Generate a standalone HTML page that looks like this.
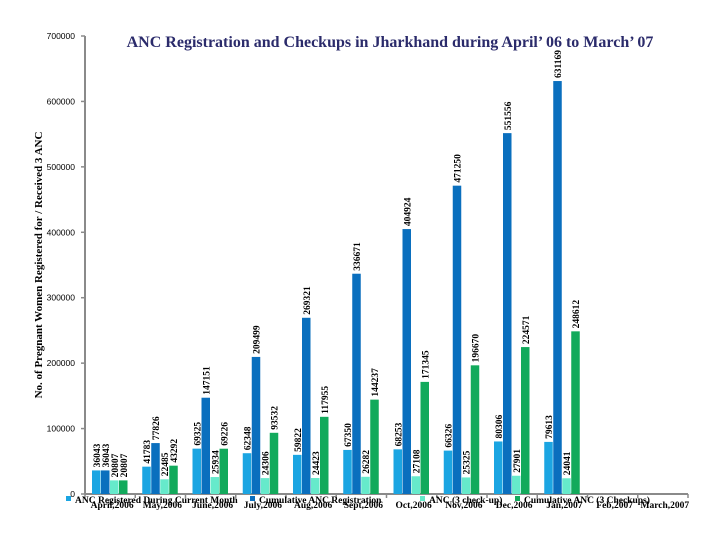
<!DOCTYPE html>
<html><head><meta charset="utf-8"><style>
body{margin:0;background:#fff;}
svg{display:block;font-family:"Liberation Serif",serif;}
</style></head><body>
<svg id="chart" width="720" height="540">
<text x="390" y="47" text-anchor="middle" font-size="16" font-weight="bold" fill="#2b2b6b">ANC Registration and Checkups in Jharkhand during April’ 06 to March’ 07</text>
<text transform="translate(42,265) rotate(-90)" text-anchor="middle" font-size="11" font-weight="bold" fill="#000">No. of Pregnant Women Registered for / Received 3 ANC</text>
<g id="plot"></g>
</svg>
<script>
const months=["April,2006","May,2006","June,2006","July,2006","Aug,2006","Sept,2006","Oct,2006","Nov,2006","Dec,2006","Jan,2007","Feb,2007","March,2007"];
const regMonth=[36043,41783,69325,62348,59822,67350,68253,66326,80306,79613,null,null];
const regCum=[36043,77826,147151,209499,269321,336671,404924,471250,551556,631169,null,null];
const chkMonth=[20807,22485,25934,24306,24423,26282,27108,25325,27901,24041,null,null];
const chkCum=[20807,43292,69226,93532,117955,144237,171345,196670,224571,248612,null,null];
const yTicks=[0,100000,200000,300000,400000,500000,600000,700000];
const seriesNames=["ANC Registered During Current Month","Cumulative ANC Registration","ANC (3 check-up)","Cumulative ANC (3 Checkups)"];
const colors=["#1ba5e2","#0a6fbe","#66eacb","#12aa5c"];
const NS="http://www.w3.org/2000/svg";
const g=document.getElementById('plot');
const x0=85,x1=688,yb=494,yt=36,ymax=700000;
const y=v=>yb-(v/ymax)*(yb-yt);
const cw=(x1-x0)/months.length;
function el(t,a){const e=document.createElementNS(NS,t);for(const k in a)e.setAttribute(k,a[k]);g.appendChild(e);return e;}
const ya=el('line',{x1:x0,y1:yt,x2:x0,y2:yb,stroke:'#8a8a8a','stroke-width':2});


const xa=el('line',{x1:x0,y1:yb,x2:x1,y2:yb,stroke:'#8a8a8a','stroke-width':2});


yTicks.forEach(v=>{
 el('line',{x1:x0-4,y1:y(v),x2:x0,y2:y(v),stroke:'#8a8a8a','stroke-width':1.5});
 const t=el('text',{x:x0-10,y:y(v)+3,'text-anchor':'end','font-size':8.5,'font-family':'Liberation Sans, sans-serif'});
 t.textContent=v;
 
 
});
for(let i=0;i<=months.length;i++){
 el('line',{x1:x0+i*cw,y1:yb,x2:x0+i*cw,y2:yb+4,stroke:'#8a8a8a','stroke-width':1.5});
}
const series=[regMonth,regCum,chkMonth,chkCum];
months.forEach((m,i)=>{
 const t=el('text',{x:x0+i*cw+cw/2+2,y:508,'text-anchor':'middle','font-size':9.5,'font-weight':'bold'});
 t.textContent=m;
 
 
 series.forEach((s,j)=>{
  const v=s[i]; if(v==null)return;
  const bx=x0+i*cw+7+j*9, bw=8.5;
  const r=el('rect',{x:bx,y:y(v),width:bw,height:yb-y(v),fill:colors[j]});
  
  
  const lx=bx+bw/2+3.5, ly=y(v)-3;
  const l=el('text',{transform:`translate(${lx},${ly}) rotate(-90)`,'font-size':9.5,'font-weight':'bold'});
  l.textContent=v;
  
  
 });
});
const lpos=[66,250,420,515];
seriesNames.forEach((n,j)=>{
 el('rect',{x:lpos[j],y:496,width:5,height:5,fill:colors[j]});
 const t=el('text',{x:lpos[j]+9,y:503,'font-size':9.5,'font-weight':'bold'});
 t.textContent=n;
 
 
});
</script>
</body></html>
